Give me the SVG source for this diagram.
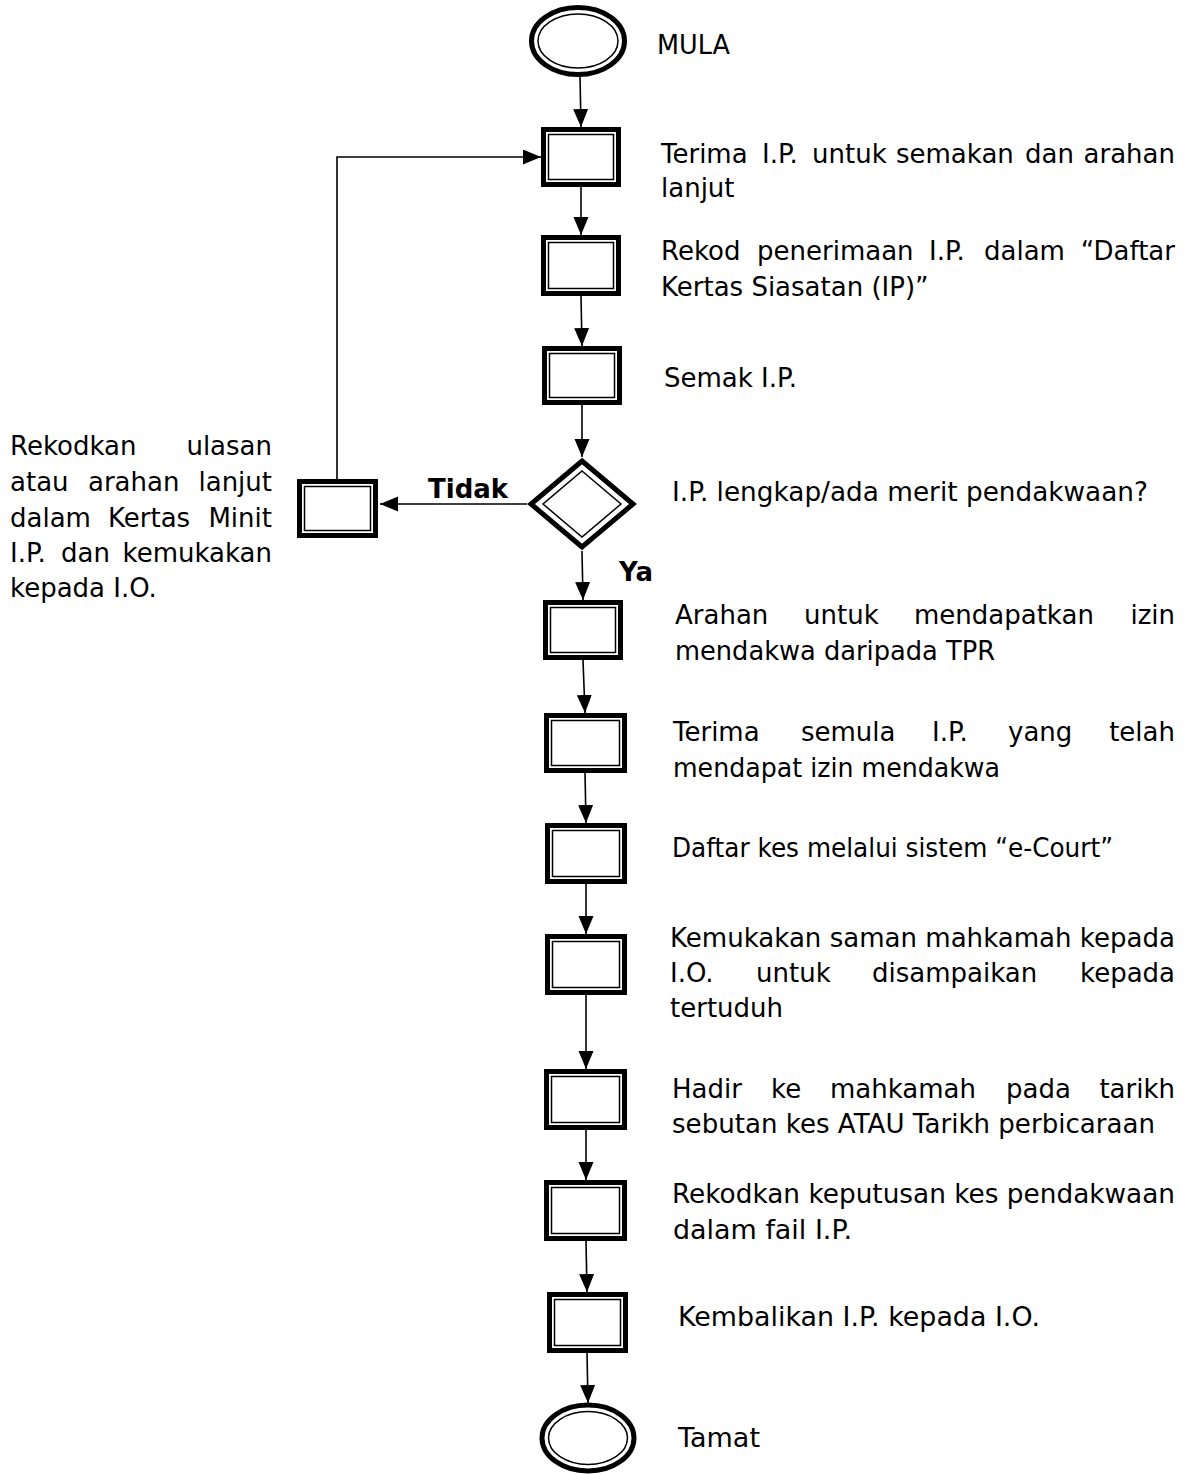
<svg xmlns="http://www.w3.org/2000/svg" width="1190" height="1474" viewBox="0 0 1190 1474">
<style>
  .outer{fill:#fff;stroke:#000;stroke-width:5;stroke-linejoin:miter}
  .inner{fill:none;stroke:#000;stroke-width:1.5}
  .conn{fill:none;stroke:#000;stroke-width:1.6}
  .t{font-family:"DejaVu Sans","Verdana",sans-serif;font-size:26px;fill:#000}
  .b{font-family:"DejaVu Sans","Verdana",sans-serif;font-size:26px;font-weight:bold;fill:#000}
</style>
<defs>
  <marker id="arr" markerUnits="userSpaceOnUse" markerWidth="18" markerHeight="16" refX="18" refY="7.5" orient="auto">
    <path d="M0,0 L18,7.5 L0,15 z" fill="#000"/>
  </marker>
</defs>

<g id="connectors">
  <line class="conn" x1="580" y1="76" x2="581" y2="127" marker-end="url(#arr)"/>
  <line class="conn" x1="581" y1="187" x2="581" y2="235" marker-end="url(#arr)"/>
  <line class="conn" x1="581" y1="296" x2="582" y2="346" marker-end="url(#arr)"/>
  <line class="conn" x1="582" y1="405" x2="582" y2="457" marker-end="url(#arr)"/>
  <line class="conn" x1="582" y1="551" x2="583" y2="600" marker-end="url(#arr)"/>
  <line class="conn" x1="583" y1="660" x2="585" y2="713" marker-end="url(#arr)"/>
  <line class="conn" x1="585" y1="773" x2="586" y2="823" marker-end="url(#arr)"/>
  <line class="conn" x1="586" y1="884" x2="586" y2="934" marker-end="url(#arr)"/>
  <line class="conn" x1="586" y1="995" x2="586" y2="1069" marker-end="url(#arr)"/>
  <line class="conn" x1="586" y1="1130" x2="586" y2="1180" marker-end="url(#arr)"/>
  <line class="conn" x1="586" y1="1241" x2="587" y2="1292" marker-end="url(#arr)"/>
  <line class="conn" x1="587" y1="1353" x2="588" y2="1403" marker-end="url(#arr)"/>
  <line class="conn" x1="527" y1="504" x2="380" y2="504" marker-end="url(#arr)"/>
  <polyline class="conn" points="337,479 337,157 541,157" marker-end="url(#arr)"/>
</g>

<g id="start">
  <ellipse class="outer" cx="578" cy="41" rx="46.5" ry="33.5"/>
  <ellipse class="inner" cx="578" cy="41" rx="40" ry="27"/>
  <text class="t" x="657" y="54" textLength="73" lengthAdjust="spacingAndGlyphs">MULA</text>
</g>

<g id="n1">
  <rect class="outer" x="543.5" y="129.5" width="75" height="55"/>
  <rect class="inner" x="548.5" y="134.5" width="65" height="45"/>
  <text class="t" y="163"><tspan x="661">Terima</tspan><tspan x="762">I.P.</tspan><tspan x="812">untuk</tspan><tspan x="896">semakan</tspan><tspan x="1025">dan</tspan><tspan x="1175" text-anchor="end">arahan</tspan></text>
  <text class="t" x="661" y="197">lanjut</text>
</g>

<g id="n2">
  <rect class="outer" x="543.5" y="237.5" width="75" height="56"/>
  <rect class="inner" x="548.5" y="242.5" width="65" height="46"/>
  <text class="t" y="260"><tspan x="661">Rekod</tspan><tspan x="757">penerimaan</tspan><tspan x="929">I.P.</tspan><tspan x="984">dalam</tspan><tspan x="1175" text-anchor="end">“Daftar</tspan></text>
  <text class="t" x="661" y="296">Kertas Siasatan (IP)”</text>
</g>

<g id="n3">
  <rect class="outer" x="544.5" y="348.5" width="75" height="54"/>
  <rect class="inner" x="549.5" y="353.5" width="65" height="44"/>
  <text class="t" x="664" y="387">Semak I.P.</text>
</g>

<g id="decision">
  <polygon class="outer" points="582,461 633,504 582,547 531,504"/>
  <polygon class="inner" points="582,471 621,504 582,537 543,504"/>
  <text class="t" x="672" y="501" textLength="476" lengthAdjust="spacingAndGlyphs">I.P. lengkap/ada merit pendakwaan?</text>
  <text class="b" x="428" y="498">Tidak</text>
  <text class="b" x="619" y="581">Ya</text>
</g>

<g id="nLeft">
  <rect class="outer" x="299.5" y="481.5" width="76" height="54"/>
  <rect class="inner" x="304.5" y="486.5" width="66" height="44"/>
  <text class="t" y="455"><tspan x="10">Rekodkan</tspan><tspan x="272" text-anchor="end">ulasan</tspan></text>
  <text class="t" y="491"><tspan x="10">atau</tspan><tspan x="88">arahan</tspan><tspan x="272" text-anchor="end">lanjut</tspan></text>
  <text class="t" y="527"><tspan x="10">dalam</tspan><tspan x="108">Kertas</tspan><tspan x="272" text-anchor="end">Minit</tspan></text>
  <text class="t" y="562"><tspan x="10">I.P.</tspan><tspan x="61">dan</tspan><tspan x="272" text-anchor="end">kemukakan</tspan></text>
  <text class="t" x="10" y="597">kepada I.O.</text>
</g>

<g id="n4">
  <rect class="outer" x="545.5" y="602.5" width="75" height="55"/>
  <rect class="inner" x="550.5" y="607.5" width="65" height="45"/>
  <text class="t" y="624"><tspan x="675">Arahan</tspan><tspan x="804">untuk</tspan><tspan x="914">mendapatkan</tspan><tspan x="1175" text-anchor="end">izin</tspan></text>
  <text class="t" x="675" y="660" textLength="320" lengthAdjust="spacingAndGlyphs">mendakwa daripada TPR</text>
</g>

<g id="n5">
  <rect class="outer" x="546.5" y="715.5" width="78" height="55"/>
  <rect class="inner" x="551.5" y="720.5" width="68" height="45"/>
  <text class="t" y="741"><tspan x="673">Terima</tspan><tspan x="801">semula</tspan><tspan x="932">I.P.</tspan><tspan x="1008">yang</tspan><tspan x="1175" text-anchor="end">telah</tspan></text>
  <text class="t" x="673" y="777" textLength="327" lengthAdjust="spacingAndGlyphs">mendapat izin mendakwa</text>
</g>

<g id="n6">
  <rect class="outer" x="547.5" y="825.5" width="77" height="56"/>
  <rect class="inner" x="552.5" y="830.5" width="67" height="46"/>
  <text class="t" x="672" y="857" textLength="441" lengthAdjust="spacingAndGlyphs">Daftar kes melalui sistem “e-Court”</text>
</g>

<g id="n7">
  <rect class="outer" x="547.5" y="936.5" width="77" height="56"/>
  <rect class="inner" x="552.5" y="941.5" width="67" height="46"/>
  <text class="t" x="670" y="947" textLength="505" lengthAdjust="spacingAndGlyphs">Kemukakan saman mahkamah kepada</text>
  <text class="t" y="982"><tspan x="670">I.O.</tspan><tspan x="756">untuk</tspan><tspan x="872">disampaikan</tspan><tspan x="1175" text-anchor="end">kepada</tspan></text>
  <text class="t" x="670" y="1017">tertuduh</text>
</g>

<g id="n8">
  <rect class="outer" x="546.5" y="1071.5" width="78" height="56"/>
  <rect class="inner" x="551.5" y="1076.5" width="68" height="46"/>
  <text class="t" y="1098"><tspan x="672">Hadir</tspan><tspan x="771">ke</tspan><tspan x="830">mahkamah</tspan><tspan x="1006">pada</tspan><tspan x="1175" text-anchor="end">tarikh</tspan></text>
  <text class="t" x="672" y="1133" textLength="483" lengthAdjust="spacingAndGlyphs">sebutan kes ATAU Tarikh perbicaraan</text>
</g>

<g id="n9">
  <rect class="outer" x="546.5" y="1182.5" width="78" height="56"/>
  <rect class="inner" x="551.5" y="1187.5" width="68" height="46"/>
  <text class="t" x="672" y="1203" textLength="503" lengthAdjust="spacingAndGlyphs">Rekodkan keputusan kes pendakwaan</text>
  <text class="t" x="673" y="1239" textLength="179" lengthAdjust="spacingAndGlyphs">dalam fail I.P.</text>
</g>

<g id="n10">
  <rect class="outer" x="549.5" y="1294.5" width="76" height="56"/>
  <rect class="inner" x="554.5" y="1299.5" width="66" height="46"/>
  <text class="t" x="678" y="1326" textLength="362" lengthAdjust="spacingAndGlyphs">Kembalikan I.P. kepada I.O.</text>
</g>

<g id="end">
  <ellipse class="outer" cx="588" cy="1438" rx="46" ry="33"/>
  <ellipse class="inner" cx="588" cy="1438" rx="39.5" ry="26.5"/>
  <text class="t" x="678" y="1447" textLength="82" lengthAdjust="spacingAndGlyphs">Tamat</text>
</g>
</svg>
